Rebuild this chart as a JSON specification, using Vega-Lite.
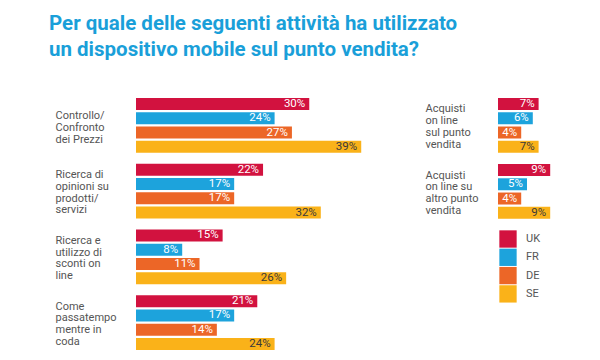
{
  "$schema": "https://vega.github.io/schema/vega-lite/v6.json",
  "background": "white",
  "padding": {"left": 49, "top": 14, "right": 0, "bottom": 0},
  "title": {
    "text": ["Per quale delle seguenti attività ha utilizzato", "un dispositivo mobile sul punto vendita?"],
    "anchor": "start",
    "font": "Roboto",
    "fontSize": 20.5,
    "fontWeight": "bold",
    "color": "#1A9FD9",
    "lineHeight": 26,
    "offset": 37,
    "dx": -6
  },
  "config": {
    "view": {"stroke": null},
    "font": "Roboto",
    "axisY": {
      "title": null,
      "domain": false,
      "ticks": false,
      "tickSize": 0,
      "grid": false,
      "labelAlign": "left",
      "labelBaseline": "top",
      "labelFont": "Roboto",
      "labelFontSize": 11,
      "labelColor": "#555555",
      "labelLineHeight": 11.7,
      "labelLimit": 0,
      "labelOffset": {"condition": {"test": "length(split(datum.value, '|')) === 3", "value": -15}, "value": -22},
      "labelExpr": "split(datum.value, '|')"
    }
  },
  "datasets": {
    "left": [
      {"activity": "Controllo/|Confronto|dei Prezzi", "country": "UK", "value": 30},
      {"activity": "Controllo/|Confronto|dei Prezzi", "country": "FR", "value": 24},
      {"activity": "Controllo/|Confronto|dei Prezzi", "country": "DE", "value": 27},
      {"activity": "Controllo/|Confronto|dei Prezzi", "country": "SE", "value": 39},
      {"activity": "Ricerca di|opinioni su|prodotti/|servizi", "country": "UK", "value": 22},
      {"activity": "Ricerca di|opinioni su|prodotti/|servizi", "country": "FR", "value": 17},
      {"activity": "Ricerca di|opinioni su|prodotti/|servizi", "country": "DE", "value": 17},
      {"activity": "Ricerca di|opinioni su|prodotti/|servizi", "country": "SE", "value": 32},
      {"activity": "Ricerca e|utilizzo di|sconti on|line", "country": "UK", "value": 15},
      {"activity": "Ricerca e|utilizzo di|sconti on|line", "country": "FR", "value": 8},
      {"activity": "Ricerca e|utilizzo di|sconti on|line", "country": "DE", "value": 11},
      {"activity": "Ricerca e|utilizzo di|sconti on|line", "country": "SE", "value": 26},
      {"activity": "Come|passatempo|mentre in|coda", "country": "UK", "value": 21},
      {"activity": "Come|passatempo|mentre in|coda", "country": "FR", "value": 17},
      {"activity": "Come|passatempo|mentre in|coda", "country": "DE", "value": 14},
      {"activity": "Come|passatempo|mentre in|coda", "country": "SE", "value": 24}
    ],
    "right": [
      {"activity": "Acquisti|on line|sul punto|vendita", "country": "UK", "value": 7},
      {"activity": "Acquisti|on line|sul punto|vendita", "country": "FR", "value": 6},
      {"activity": "Acquisti|on line|sul punto|vendita", "country": "DE", "value": 4},
      {"activity": "Acquisti|on line|sul punto|vendita", "country": "SE", "value": 7},
      {"activity": "Acquisti|on line su|altro  punto|vendita", "country": "UK", "value": 9},
      {"activity": "Acquisti|on line su|altro  punto|vendita", "country": "FR", "value": 5},
      {"activity": "Acquisti|on line su|altro  punto|vendita", "country": "DE", "value": 4},
      {"activity": "Acquisti|on line su|altro  punto|vendita", "country": "SE", "value": 9}
    ]
  },
  "spacing": 58,
  "resolve": {"legend": {"color": "independent"}},
  "hconcat": [
    {
      "width": 231,
      "height": 252,
      "data": {"name": "left"},
      "transform": [{"calculate": "datum.value + '%'", "as": "label"}],
      "encoding": {
        "y": {"field": "activity", "type": "nominal", "sort": null, "scale": {"paddingInner": 0.167, "paddingOuter": 0}, "axis": {"labelPadding": 81}},
        "yOffset": {"field": "country", "type": "nominal", "sort": ["UK", "FR", "DE", "SE"], "scale": {"paddingInner": 0.16, "paddingOuter": 0}},
        "x": {"field": "value", "type": "quantitative", "scale": {"domain": [0, 40]}, "axis": null}
      },
      "layer": [
        {
          "mark": {"type": "bar"},
          "encoding": {
            "color": {"field": "country", "type": "nominal", "scale": {"domain": ["UK", "FR", "DE", "SE"], "range": ["#D2123F", "#1DA3DC", "#EC6627", "#FAB219"]}, "legend": null}
          }
        },
        {
          "mark": {"type": "text", "align": "right", "baseline": "middle", "dx": -4, "fontSize": 11.5, "font": "Roboto"},
          "encoding": {
            "text": {"field": "label"},
            "color": {"condition": {"test": "datum.country === 'SE'", "value": "#3a3a3a"}, "value": "white"}
          }
        }
      ]
    },
    {
      "width": 58,
      "height": 121,
      "data": {"name": "right"},
      "transform": [{"calculate": "datum.value + '%'", "as": "label"}],
      "encoding": {
        "y": {"field": "activity", "type": "nominal", "sort": null, "scale": {"paddingInner": 0.167, "paddingOuter": 0}, "axis": {"labelPadding": 73}},
        "yOffset": {"field": "country", "type": "nominal", "sort": ["UK", "FR", "DE", "SE"], "scale": {"paddingInner": 0.16, "paddingOuter": 0}},
        "x": {"field": "value", "type": "quantitative", "scale": {"domain": [0, 10]}, "axis": null}
      },
      "layer": [
        {
          "mark": {"type": "bar"},
          "encoding": {
            "color": {
              "field": "country", "type": "nominal",
              "scale": {"domain": ["UK", "FR", "DE", "SE"], "range": ["#D2123F", "#1DA3DC", "#EC6627", "#FAB219"]},
              "legend": {
                "title": null,
                "orient": "none",
                "legendX": 1,
                "legendY": 132,
                "symbolType": "square",
                "symbolSize": 300,
                "symbolStrokeWidth": 0,
                "symbolOpacity": 1,
                "rowPadding": 0.3,
                "labelOffset": 9,
                "labelFont": "Roboto",
                "labelFontSize": 11,
                "labelColor": "#555555"
              }
            }
          }
        },
        {
          "mark": {"type": "text", "align": "right", "baseline": "middle", "dx": -4, "fontSize": 11.5, "font": "Roboto"},
          "encoding": {
            "text": {"field": "label"},
            "color": {"condition": {"test": "datum.country === 'SE'", "value": "#3a3a3a"}, "value": "white"}
          }
        }
      ]
    }
  ]
}
